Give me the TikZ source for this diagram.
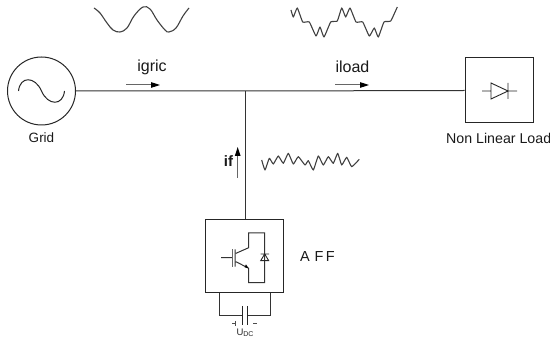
\documentclass[tikz,border=0pt]{standalone}
\usepackage{fontspec}
\setmainfont{Liberation Sans}
\usetikzlibrary{arrows.meta}
\tikzset{
  wire/.style={draw=black!80,line width=1pt},
  blockbox/.style={draw=black!85,line width=1pt,fill=none,inner sep=0pt,rectangle},
  wave/.style={draw=black!75,line width=1.1pt,line join=round},
  flow/.style={draw=black!60,line width=1pt,-{Triangle[length=9pt,width=5.5pt,color=black]}},
  lab/.style={inner sep=0pt,font=\fontsize{13.5}{15}\selectfont,text=black!90},
  curlab/.style={inner sep=0pt,font=\fontsize{16}{18}\selectfont,text=black!90},
}
\begin{document}
\begin{tikzpicture}[x=1pt,y=-1pt]
\useasboundingbox (0,0) rectangle (550,339);
% main blocks
\node[draw=black!85,line width=1pt,circle,minimum size=68pt,inner sep=0pt] (grid) at (41.5,91) {};
\node[blockbox,minimum width=68pt,minimum height=65pt] (load) at (499,90.5) {};
\node[blockbox,minimum width=78pt,minimum height=73.5pt] (aff) at (244.7,256.2) {};
\coordinate (junc) at (245,91);
\draw[wire] (grid.east) -- (junc) -- (load.west);
\draw[wire] (junc) -- (junc |- aff.north);
% labels
\node[lab] (gridlab) at (41.5,138) {Grid};
\node[lab,anchor=west,font=\fontsize{14.2}{16}\selectfont] (loadlab) at (446,138) {Non Linear Load};
\node[curlab] (igric) at (152,67) {igric};
\node[curlab] (iload) at (352.5,67) {iload};
\node[curlab,font=\fontsize{15}{18}\selectfont\bfseries] (if) at (228.5,161) {if};
\node[lab,anchor=west,font=\fontsize{14.5}{16}\selectfont] (afflab) at (300,257) {A\,\,F\,F};
\node[inner sep=0pt,font=\fontsize{9.5}{10}\selectfont,text=black!85] (udc) at (245,333) {U\raisebox{-0.3ex}{\fontsize{7}{8}\selectfont DC}};
% current arrows
\coordinate (a1) at (126,85); \coordinate (a2) at (160,85);
\coordinate (b1) at (335,85); \coordinate (b2) at (369,85);
\coordinate (c1) at (237.7,178); \coordinate (c2) at (237.7,147);
\draw[flow] (a1) -- (a2);
\draw[flow] (b1) -- (b2);
\draw[flow] (c1) -- (c2);
% sine in grid
\draw[draw=black!85,line width=1pt] (18.5,91) .. controls (20,76) and (35,76) .. (41.5,91) .. controls (48,106) and (63,106) .. (64.5,91);
% diode in load
\draw[draw=black!85,line width=0.9pt,line join=miter]
  (482,91) -- (491,91) (491,83) -- (491,99) -- (508,91) -- cycle
  (508,83) -- (508,99) (508,91) -- (517,91);
% waves
\draw[wave] plot[smooth,tension=0.6] coordinates {(94,8) (100,13) (107,23) (113,30) (120,32) (127,28) (134,16) (143,7) (150,9) (157,20) (165,30) (169,32) (176,28) (183,16) (189,8)};
\draw[wave] plot[smooth,tension=0.25] coordinates {(291,10) (293.3,17) (297.3,8) (302.7,22) (309.3,22) (316,36) (320,27) (324,37) (330.7,22) (337.3,21) (341.7,8) (345.7,17) (350,8) (356,22) (362.7,22) (369.3,36) (374.3,28) (378.3,37) (384,22) (390.7,21) (397.3,7)};
\draw[wave] plot[smooth,tension=0.25] coordinates {(261.7,160) (265,170) (269.3,158.3) (273.3,164) (278.3,156) (283.3,163.3) (288.3,153.3) (293.3,164) (298.3,156.7) (305,165) (308.3,160.7) (313.3,170) (318.3,156) (323.3,165) (328.3,156.7) (333.3,163.3) (337.7,153.3) (341.7,165) (346.7,157.3) (351.7,166.7) (359.3,159.3)};
% IGBT
\draw[draw=black!80,line width=1pt,line join=miter]
  (221,257.7) -- (232.3,257.7)
  (235,249.3) -- (235,266.7)
  (236,253.3) -- (248.7,247.7) -- (248.7,233) -- (264.7,233) -- (264.7,282.7) -- (248.7,282.7) -- (248.7,268.3) -- (236,261.7);
\draw[draw=black!60,line width=1pt] (232.5,249.3) -- (232.5,266.7);
\fill[black] (248.7,268.3) -- (244.5,267.3) -- (246,264.5) -- cycle;
% antiparallel diode
\draw[draw=black!85,line width=0.9pt] (260.5,254) -- (269,254) (264.7,254) -- (260.7,260.7) -- (268.7,260.7) -- cycle;
% DC link
\coordinate (l1) at (219.3,293); \coordinate (l2) at (270.3,293);
\coordinate (p1) at (242.3,316); \coordinate (p2) at (247.7,316);
\draw[wire] (l1) -- (219.3,316) -- (p1);
\draw[wire] (l2) -- (270.3,316) -- (p2);
\draw[draw=black!85,line width=1pt] (242.3,306) -- (242.3,325) (247.7,306) -- (247.7,325);
\draw[draw=black!70,line width=0.6pt] (232,323.5) -- (236,323.5) (235,321) -- (235,326) (253,323.5) -- (257,323.5);
\end{tikzpicture}
\end{document}
